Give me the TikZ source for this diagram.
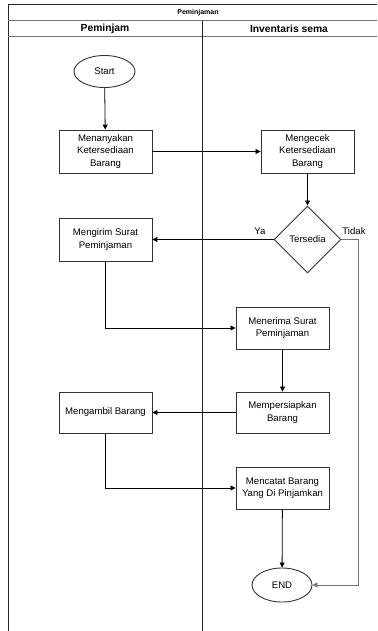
\documentclass[tikz,border=0pt]{standalone}
\usepackage{fontspec}
\setmainfont{Liberation Sans}
\usetikzlibrary{shapes.geometric,arrows.meta}
\begin{document}
\begin{tikzpicture}[x=1pt,y=-1pt,
  lane/.style={draw=black!85,line width=1pt},
  proc/.style={draw=black!80,line width=0.9pt,minimum width=93pt,minimum height=43pt,
    align=center,font=\fontsize{9.6}{12.5}\selectfont,inner sep=1pt},
  term/.style={draw=black!80,line width=0.9pt,ellipse,minimum width=61pt,minimum height=32pt,
    inner sep=0pt,font=\fontsize{9.6}{12}\selectfont},
  decide/.style={draw=black!80,line width=0.9pt,diamond,minimum width=67pt,minimum height=67pt,
    inner sep=0pt,font=\fontsize{9.6}{12}\selectfont},
  flow/.style={draw=black,line width=0.8pt,-{Triangle[length=5pt,width=5pt]}},
  lbl/.style={font=\fontsize{9.6}{12}\selectfont,inner sep=0pt}]
\useasboundingbox (0,0) rectangle (377,631);

% swimlane frame
\draw[lane] (8,631) -- (8,5) -- (377,5);
\draw[lane,draw=black!55] (8,21) -- (377,21);
\draw[lane,draw=black!55] (8,37) -- (377,37);
\draw[lane] (202,21) -- (202,631);
\node[font=\bfseries\fontsize{7}{8}\selectfont] (title) at (198,13) {Peminjaman};
\node[font=\bfseries\fontsize{10.3}{12}\selectfont] (h1) at (105,29) {Peminjam};
\node[font=\bfseries\fontsize{10.3}{12}\selectfont] (h2) at (289,29) {Inventaris sema};

% steps
\node[term] (start) at (104.5,71.5) {Start};
\node[proc] (tanya) at (105.5,151.5) {Menanyakan\\Ketersediaan\\Barang};
\node[proc] (cek) at (307.5,151.5) {Mengecek\\Ketersediaan\\Barang};
\node[decide] (sedia) at (307.5,239.5) {Tersedia};
\node[proc] (kirim) at (105.5,239.5) {Mengirim Surat\\Peminjaman};
\node[proc,minimum height=42pt] (terima) at (282.5,328) {Menerima Surat\\Peminjaman};
\node[proc,minimum height=41pt] (siap) at (282.5,412.5) {Mempersiapkan\\Barang};
\node[proc,minimum height=41pt] (ambil) at (105.5,412.5) {Mengambil Barang};
\node[proc,minimum height=42pt] (catat) at (282.5,488) {Mencatat Barang\\Yang Di Pinjamkan};
\node[term,minimum width=60pt,minimum height=34pt] (end) at (282,585) {END};

% connectors
\draw[flow] (start) -- (tanya);
\draw[flow] (tanya) -- (cek);
\draw[flow] (cek) -- (sedia);
\draw[flow] (sedia.west) -- (kirim.east);
\draw[flow] (kirim.south) |- (terima.west);
\draw[flow] (terima) -- (siap);
\draw[flow] (siap) -- (ambil);
\draw[flow] (ambil.south) |- (catat.west);
\draw[flow] (catat) -- (end);
\coordinate (tk) at (358,239.5);
\draw[flow,draw=black!55] (sedia.east) -- (tk) |- (end.east);

\node[lbl] (ya) at (260,231) {Ya};
\node[lbl] (tidak) at (354,231) {Tidak};
\end{tikzpicture}
\end{document}
